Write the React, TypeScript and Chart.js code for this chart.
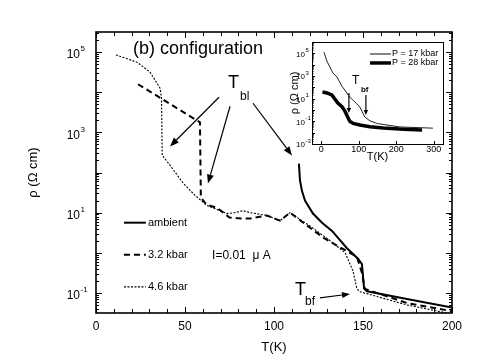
import React, { useEffect, useRef } from 'react';
import { Chart, registerables } from 'chart.js';

Chart.register(...registerables);

const FONT = '"Liberation Sans", Arial, Helvetica, sans-serif';

// ---------- main panel data: temperature T (K) and resistivity rho (Ohm cm)
const ambientT = [114.0, 114.6, 115.7, 117.4, 121.9, 127.0, 132.6, 141.0, 147.2, 149.4, 150.6, 152.2, 174.7, 200];
const ambientRho = [166, 63, 35, 20, 9.5, 5.6, 3.5, 1.3, 0.71, 0.52, 0.13, 0.11, 0.071, 0.043];

const kbar32T = [23.6, 58.4, 58.9, 62, 68, 75, 80, 86.5, 96, 103.4, 109, 118, 127.6, 135.4, 142.7, 146.6, 149.4, 151, 174.7, 200];
const kbar32Rho = [1.58e4, 1.78e3, 24, 15.8, 13.2, 7.6, 7.2, 7.1, 8.5, 6.3, 10, 5.0, 2.4, 1.5, 1.0, 0.79, 0.32, 0.126, 0.056, 0.035];

const kbar46T = [11.2, 23, 30.3, 36, 36.8, 37.2, 41.6, 49, 55.6, 62.4, 68, 73.6, 78, 82.6, 86.5, 96, 103.4, 109, 120, 131.5, 140, 144.4, 146.6, 148.3, 174.7, 200];
const kbar46Rho = [8.5e4, 5.6e4, 3.2e4, 1.26e4, 7.1e3, 269, 151, 54, 27, 15, 12, 9.5, 10, 11.2, 10, 8.5, 6.3, 10, 4.7, 2.0, 1.0, 0.35, 0.126, 0.107, 0.05, 0.03];

const seriesLabels = ['ambient', '3.2 kbar', '4.6 kbar'];

// main axes
const xTickLabels = [0, 50, 100, 150, 200];
const xMinorStep = 10;
const yLabelExponents = [5, 3, 1, -1];
const yMinExp = -1.5;
const yMaxExp = 5.5;

// ---------- inset data
const p17T = [7, 15, 31, 42, 55, 76, 84, 93, 103, 116, 130, 150, 210, 298];
const p17Rho = [1.26e5, 2e4, 1.8e3, 794, 126, 14, 7.6, 4, 1.8, 0.24, 0.11, 0.063, 0.032, 0.025];
const p28T = [3, 15, 28, 44, 55, 63, 70, 76, 85, 103, 130, 165, 220, 269];
const p28Rho = [39, 32, 21, 4.2, 2.0, 0.79, 0.25, 0.1, 0.066, 0.047, 0.033, 0.026, 0.02, 0.017];
const insetLabels = ['P = 17 kbar', 'P = 28 kbar'];
const insetXTickLabels = [0, 100, 200, 300];
const insetYLabelExponents = [5, 3, 1, -1, -3];

const toPoints = (xs: number[], ys: number[]) => xs.map((x, i) => ({ x, y: ys[i] }));

function drawArrow(ctx: CanvasRenderingContext2D, x1: number, y1: number, x2: number, y2: number, head: number, half: number) {
  const a = Math.atan2(y2 - y1, x2 - x1);
  const bx = x2 - head * Math.cos(a);
  const by = y2 - head * Math.sin(a);
  ctx.beginPath();
  ctx.moveTo(x1, y1);
  ctx.lineTo(bx, by);
  ctx.stroke();
  ctx.beginPath();
  ctx.moveTo(x2, y2);
  ctx.lineTo(bx + half * Math.sin(a), by - half * Math.cos(a));
  ctx.lineTo(bx - half * Math.sin(a), by + half * Math.cos(a));
  ctx.closePath();
  ctx.fill();
}

function logTicks(minExp: number, maxExp: number) {
  const out: { value: number }[] = [];
  for (let e = Math.floor(minExp); e <= Math.ceil(maxExp); e++) {
    for (let d = 1; d <= 9; d++) {
      const v = d * Math.pow(10, e);
      const lv = Math.log10(v);
      if (lv >= minExp - 1e-9 && lv <= maxExp + 1e-9) out.push({ value: v });
    }
  }
  return out;
}
const isDecade = (v: number) => Math.abs(Math.log10(v) - Math.round(Math.log10(v))) < 1e-6;
const R = (e: number) => Math.pow(10, e);

const mainDecor = {
  id: 'mainDecor',
  afterDraw(chart: any) {
    const { ctx, chartArea: ca } = chart;
    const xs = chart.scales.x;
    const ys = chart.scales.y;
    const X = (v: number) => xs.getPixelForValue(v);
    const Y = (v: number) => ys.getPixelForValue(v);
    ctx.save();
    ctx.strokeStyle = '#000';
    ctx.fillStyle = '#000';
    // frame
    ctx.lineWidth = 1.6;
    ctx.strokeRect(ca.left, ca.top, ca.right - ca.left, ca.bottom - ca.top);
    // inward ticks
    ctx.lineWidth = 1;
    ys.ticks.forEach((t: any) => {
      const p = Math.round(Y(t.value)) + 0.5;
      const len = isDecade(t.value) ? 6 : 3;
      ctx.beginPath();
      ctx.moveTo(ca.left, p); ctx.lineTo(ca.left + len, p);
      ctx.moveTo(ca.right, p); ctx.lineTo(ca.right - len, p);
      ctx.stroke();
    });
    xs.ticks.forEach((t: any) => {
      const p = Math.round(X(t.value)) + 0.5;
      const len = xTickLabels.includes(t.value) ? 6 : 4;
      ctx.beginPath();
      ctx.moveTo(p, ca.bottom); ctx.lineTo(p, ca.bottom - len);
      ctx.moveTo(p, ca.top); ctx.lineTo(p, ca.top + len);
      ctx.stroke();
    });
    // y tick labels with superscripts
    yLabelExponents.forEach((e) => {
      const p = Y(R(e));
      ctx.textBaseline = 'middle';
      ctx.textAlign = 'right';
      ctx.font = `12px ${FONT}`;
      ctx.fillText('10', ca.left - 16, p + 3);
      ctx.textAlign = 'left';
      ctx.font = `8px ${FONT}`;
      ctx.fillText(String(e), ca.left - 15.5, p - 3);
    });
    // legend
    chart.data.datasets.forEach((ds: any, i: number) => {
      const ly = Y(R([0.75, -0.05, -0.85][i]));
      ctx.save();
      ctx.lineWidth = ds.borderWidth;
      ctx.setLineDash(ds.borderDash || []);
      ctx.beginPath();
      ctx.moveTo(X(15.7), ly);
      ctx.lineTo(X(28), ly);
      ctx.stroke();
      ctx.restore();
      ctx.font = `11px ${FONT}`;
      ctx.textAlign = 'left';
      ctx.textBaseline = 'middle';
      ctx.fillText(ds.label, X(29.2), ly);
    });
    ctx.font = `12px ${FONT}`;
    ctx.textAlign = 'left';
    ctx.textBaseline = 'middle';
    ctx.fillText('I=0.01  \u03bc A', X(65.2), Y(R(-0.075)));
    // panel label
    ctx.font = `18px ${FONT}`;
    ctx.fillText('(b) configuration', X(20.8), Y(R(5.075)));
    // T_bl
    ctx.font = `18px ${FONT}`;
    ctx.fillText('T', X(74.2), Y(R(4.225)));
    ctx.font = `12px ${FONT}`;
    ctx.fillText('bl', X(80.9), Y(R(3.9)));
    // T_bf
    ctx.font = `18px ${FONT}`;
    ctx.fillText('T', X(111.8), Y(R(-0.925)));
    ctx.font = `12px ${FONT}`;
    ctx.fillText('bf', X(117.4), Y(R(-1.225)));
    // arrows
    ctx.lineWidth = 1.2;
    drawArrow(ctx, X(69.1), Y(R(3.875)), X(41.6), Y(R(2.65)), 9, 3.5);
    drawArrow(ctx, X(75.3), Y(R(3.65)), X(62.9), Y(R(1.725)), 9, 3.5);
    drawArrow(ctx, X(88.2), Y(R(3.725)), X(110.1), Y(R(2.425)), 9, 3.5);
    drawArrow(ctx, X(125.8), Y(R(-1.125)), X(142.7), Y(R(-1.025)), 8, 3);
    ctx.restore();
  },
};

const insetDecor = {
  id: 'insetDecor',
  afterDraw(chart: any) {
    const { ctx, chartArea: ca } = chart;
    const xs = chart.scales.x;
    const ys = chart.scales.y;
    const X = (v: number) => xs.getPixelForValue(v);
    const Y = (v: number) => ys.getPixelForValue(v);
    ctx.save();
    ctx.strokeStyle = '#000';
    ctx.fillStyle = '#000';
    ctx.lineWidth = 1;
    ctx.strokeRect(Math.round(ca.left) + 0.5, Math.round(ca.top) + 0.5, Math.round(ca.right - ca.left), Math.round(ca.bottom - ca.top));
    ys.ticks.forEach((t: any) => {
      const p = Math.round(Y(t.value)) + 0.5;
      const len = isDecade(t.value) ? 3 : 1.5;
      ctx.beginPath();
      ctx.moveTo(ca.left, p); ctx.lineTo(ca.left + len, p);
      ctx.stroke();
    });
    xs.ticks.forEach((t: any) => {
      const p = Math.round(X(t.value)) + 0.5;
      ctx.beginPath();
      ctx.moveTo(p, ca.bottom); ctx.lineTo(p, ca.bottom - 3);
      ctx.stroke();
    });
    insetYLabelExponents.forEach((e) => {
      const p = Y(R(e));
      ctx.textBaseline = 'middle';
      ctx.textAlign = 'right';
      ctx.font = `8px ${FONT}`;
      ctx.fillText('10', ca.left - 7, p + 1);
      ctx.textAlign = 'left';
      ctx.font = `6px ${FONT}`;
      ctx.fillText(String(e), ca.left - 6.5, p - 3);
    });
    // legend
    const legendY = [4.94, 4.15];
    const legendColor = ['#777', '#000'];
    chart.data.datasets.forEach((ds: any, i: number) => {
      const ly = Y(R(legendY[i]));
      ctx.save();
      ctx.strokeStyle = legendColor[i];
      ctx.lineWidth = i === 0 ? 1.8 : 3.5;
      ctx.beginPath();
      ctx.moveTo(X(130), ly);
      ctx.lineTo(X(186), ly);
      ctx.stroke();
      ctx.restore();
      ctx.font = `9px ${FONT}`;
      ctx.textAlign = 'left';
      ctx.textBaseline = 'middle';
      ctx.fillText(ds.label, X(188.6), ly);
    });
    // T_bf
    ctx.textAlign = 'left';
    ctx.textBaseline = 'middle';
    ctx.font = `12px ${FONT}`;
    ctx.fillText('T', X(81.8), Y(R(2.56)));
    ctx.font = `bold 8px ${FONT}`;
    ctx.fillText('bf', X(105.8), Y(R(1.76)));
    ctx.lineWidth = 1.2;
    drawArrow(ctx, X(73.6), Y(R(1.5)), X(73.6), Y(R(-0.27)), 5, 2.2);
    drawArrow(ctx, X(119), Y(R(1.32)), X(119), Y(R(-0.44)), 5, 2.2);
    ctx.restore();
  },
};

export default function App() {
  const mainRef = useRef<HTMLCanvasElement>(null);
  const insetRef = useRef<HTMLCanvasElement>(null);

  useEffect(() => {
    const main = new Chart(mainRef.current!, {
      type: 'line',
      data: {
        datasets: [
          { label: seriesLabels[0], data: toPoints(ambientT, ambientRho), borderColor: '#000', borderWidth: 2, pointRadius: 0, tension: 0, fill: false },
          { label: seriesLabels[1], data: toPoints(kbar32T, kbar32Rho), borderColor: '#000', borderWidth: 2, borderDash: [6, 4], pointRadius: 0, tension: 0, fill: false },
          { label: seriesLabels[2], data: toPoints(kbar46T, kbar46Rho), borderColor: '#000', borderWidth: 1.1, borderDash: [2, 1.5], pointRadius: 0, tension: 0, fill: false },
        ],
      },
      options: {
        responsive: false,
        animation: false,
        devicePixelRatio: 1,
        layout: { padding: { left: 0, right: 33, top: 32, bottom: 0 } },
        plugins: { legend: { display: false }, tooltip: { enabled: false } },
        scales: {
          x: {
            type: 'linear',
            min: xTickLabels[0],
            max: xTickLabels[xTickLabels.length - 1],
            afterBuildTicks: (s: any) => {
              const t: { value: number }[] = [];
              for (let v = s.min; v <= s.max; v += xMinorStep) t.push({ value: v });
              s.ticks = t;
            },
            afterFit: (s: any) => { s.height = 47; s.paddingLeft = 0; s.paddingRight = 0; },
            grid: { display: false, drawTicks: false },
            border: { display: false },
            ticks: {
              autoSkip: false, maxRotation: 0, padding: 6, color: '#000',
              font: { family: FONT, size: 12 },
              callback: (v: any) => (xTickLabels.includes(Number(v)) ? String(v) : ''),
            },
            title: { display: true, text: 'T(K)', color: '#000', font: { family: FONT, size: 13 }, padding: { top: 0, bottom: 5 } },
          },
          y: {
            type: 'logarithmic',
            min: R(yMinExp),
            max: R(yMaxExp),
            afterBuildTicks: (s: any) => { s.ticks = logTicks(yMinExp, yMaxExp); },
            afterFit: (s: any) => { s.width = 96; s.paddingTop = 0; s.paddingBottom = 0; },
            grid: { display: false, drawTicks: false },
            border: { display: false },
            ticks: { display: false },
            title: { display: true, text: '\u03c1 (\u03a9 cm)', color: '#000', font: { family: FONT, size: 13 }, padding: { top: 26, bottom: 0 } },
          },
        },
      },
      plugins: [mainDecor],
    } as any);

    const inset = new Chart(insetRef.current!, {
      type: 'line',
      data: {
        datasets: [
          { label: insetLabels[0], data: toPoints(p17T, p17Rho), borderColor: '#222', borderWidth: 1, pointRadius: 0, tension: 0, fill: false },
          { label: insetLabels[1], data: toPoints(p28T, p28Rho), borderColor: '#000', borderWidth: 3.5, pointRadius: 0, tension: 0, fill: false },
        ],
      },
      options: {
        responsive: false,
        animation: false,
        devicePixelRatio: 1,
        layout: { padding: { left: 0, right: 12, top: 6, bottom: 0 } },
        plugins: { legend: { display: false }, tooltip: { enabled: false } },
        scales: {
          x: {
            type: 'linear',
            min: -25,
            max: 325,
            afterBuildTicks: (s: any) => { s.ticks = insetXTickLabels.map((v) => ({ value: v })); },
            afterFit: (s: any) => { s.height = 22; s.paddingLeft = 0; s.paddingRight = 0; },
            grid: { display: false, drawTicks: false },
            border: { display: false },
            ticks: { autoSkip: false, maxRotation: 0, padding: 0, color: '#000', font: { family: FONT, size: 9 } },
            title: { display: true, text: 'T(K)', color: '#000', font: { family: FONT, size: 11 }, padding: { top: 0, bottom: 2.4 } },
          },
          y: {
            type: 'logarithmic',
            min: 1e-3,
            max: 1e6,
            afterBuildTicks: (s: any) => { s.ticks = logTicks(-3, 6); },
            afterFit: (s: any) => { s.width = 27; s.paddingTop = 0; s.paddingBottom = 0; },
            grid: { display: false, drawTicks: false },
            border: { display: false },
            ticks: { display: false },
            title: { display: true, text: '\u03c1 (\u03a9 cm)', color: '#000', font: { family: FONT, size: 11 }, padding: { top: 3.4, bottom: 0 } },
          },
        },
      },
      plugins: [insetDecor],
    } as any);

    return () => {
      main.destroy();
      inset.destroy();
    };
  }, []);

  return (
    <div style={{ position: 'absolute', left: 0, top: 0, width: 485, height: 360, background: '#fff' }}>
      <canvas ref={mainRef} width={485} height={360} style={{ position: 'absolute', left: 0, top: 0, width: 485, height: 360 }} />
      <canvas ref={insetRef} width={170} height={130} style={{ position: 'absolute', left: 285, top: 36, width: 170, height: 130 }} />
    </div>
  );
}
